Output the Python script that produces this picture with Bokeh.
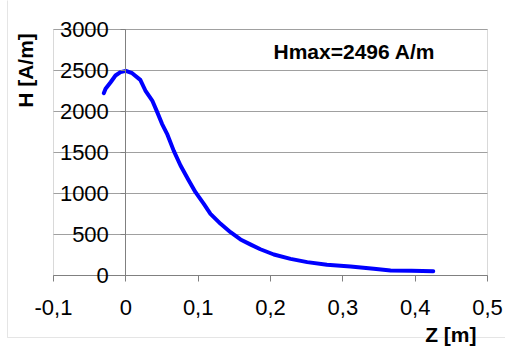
from bokeh.plotting import figure
from bokeh.models import (Range1d, FixedTicker, CustomJSTickFormatter, Label,
                          BoxAnnotation)
from bokeh.embed import file_html
from bokeh.resources import INLINE

# --- data -------------------------------------------------------------
z_m = [-0.0305, -0.028, -0.021, -0.0143, -0.0074, 0.0, 0.0088, 0.020, 0.027,
       0.0365, 0.0434, 0.050, 0.057, 0.0663, 0.0756, 0.087, 0.0963, 0.1078,
       0.117, 0.131, 0.1447, 0.1585, 0.172, 0.186, 0.2046, 0.2277, 0.2508,
       0.278, 0.3106, 0.3428, 0.366, 0.395, 0.425]
h_am = [2223, 2277, 2357, 2439, 2480, 2496, 2467, 2386, 2256, 2134, 1992,
        1850, 1728, 1520, 1341, 1159, 1016, 874, 752, 630, 528, 440, 380,
        320, 256, 203, 163, 130, 110, 81, 61, 58, 52]
x_ticks = [-0.1, 0.0, 0.1, 0.2, 0.3, 0.4, 0.5]
y_ticks = [0, 500, 1000, 1500, 2000, 2500, 3000]
annotation_text = "Hmax=2496 A/m"
x_title = "Z [m]"
y_title = "H [A/m]"

FONT = "Liberation Sans"

# --- layout (pixels) --------------------------------------------------
W, H = 505, 347
PX_L, PX_R, PX_T, PX_B = 53, 487, 29, 275
X0, X1 = x_ticks[0], x_ticks[-1]
Y0, Y1 = y_ticks[0], y_ticks[-1]
kx = (PX_R - PX_L) / (X1 - X0)
ky = (PX_B - PX_T) / (Y1 - Y0)
x_range = Range1d(X0 - PX_L / kx, X1 + (W - PX_R) / kx)
y_range = Range1d(Y0 - (H - PX_B) / ky, Y1 + PX_T / ky)

p = figure(width=W, height=H, output_backend="svg", toolbar_location=None,
           x_range=x_range, y_range=y_range,
           min_border_left=0, min_border_right=0, min_border_top=0,
           min_border_bottom=0)
p.background_fill_color = "white"
p.border_fill_color = "white"
p.outline_line_color = None
p.xgrid.visible = False
p.ygrid.visible = False

# outer chart border (extends past the window on right/bottom)
p.add_layout(BoxAnnotation(left=7, right=W + 50, top=10, bottom=H + 50,
                           left_units="screen", right_units="screen",
                           top_units="screen", bottom_units="screen",
                           fill_alpha=0, line_color="#a8a8a8", line_width=1,
                           level="underlay"))

# horizontal gridlines at y ticks, limited to the plot area
p.segment(x0=X0, x1=X1, y0=y_ticks, y1=y_ticks, line_color="#a0a0a0",
          line_width=1)

# plot area border
p.add_layout(BoxAnnotation(left=X0, right=X1, bottom=Y0, top=Y1,
                           fill_alpha=0, line_color="#808080", line_width=1,
                           level="underlay"))

# x axis along y = 0
xa = p.xaxis[0]
xa.fixed_location = 0
xa.bounds = (X0, X1)
xa.ticker = FixedTicker(ticks=x_ticks)
xa.formatter = CustomJSTickFormatter(code="""
    if (Math.abs(tick) < 1e-9) return "0";
    return tick.toFixed(1).replace('.', ',');
""")
xa.minor_tick_line_color = None
xa.major_tick_in = 0
xa.major_tick_out = 6
xa.major_tick_line_color = "#808080"
xa.axis_line_color = "#808080"
xa.major_label_standoff = 18
xa.major_label_text_font = FONT
xa.major_label_text_font_size = "22px"
xa.major_label_text_color = "black"

# y axis along x = 0 (Excel style)
ya = p.yaxis[0]
ya.fixed_location = 0
ya.bounds = (Y0, Y1)
ya.ticker = FixedTicker(ticks=y_ticks)
ya.minor_tick_line_color = None
ya.major_tick_in = 0
ya.major_tick_out = 5
ya.major_tick_line_color = "#808080"
ya.axis_line_color = "#808080"
ya.major_label_standoff = 12
ya.major_label_text_font = FONT
ya.major_label_text_font_size = "22px"
ya.major_label_text_color = "black"

p.line(z_m, h_am, line_color="#0000FF", line_width=4, line_cap="round",
       line_join="round")

p.add_layout(Label(x=273, y=H - 51, x_units="screen", y_units="screen",
                   text=annotation_text, text_font=FONT,
                   text_font_size="21px", text_font_style="bold",
                   text_align="left", text_baseline="middle",
                   text_color="black"))
p.add_layout(Label(x=476, y=H - 334, x_units="screen", y_units="screen",
                   text=x_title, text_font=FONT,
                   text_font_size="21px", text_font_style="bold",
                   text_align="right", text_baseline="middle",
                   text_color="black"))
p.add_layout(Label(x=25, y=H - 70, x_units="screen", y_units="screen",
                   text=y_title, text_font=FONT,
                   text_font_size="21px", text_font_style="bold",
                   text_align="center", text_baseline="middle", angle=1.5708,
                   text_color="black"))

open("out.html", "w").write(file_html(p, INLINE))
